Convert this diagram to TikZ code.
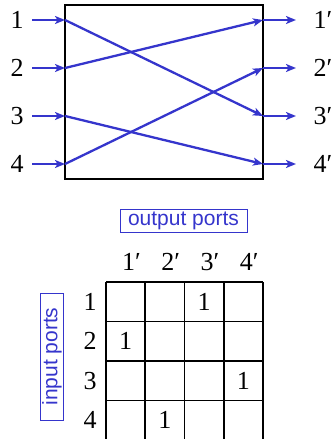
\documentclass[tikz,border=0pt]{standalone}
\usepackage{fontspec}
\setmainfont{Liberation Serif}
\setsansfont{Liberation Sans}
\usetikzlibrary{positioning,arrows.meta}
\definecolor{wireblue}{HTML}{3535CC}

\begin{document}
\begin{tikzpicture}[x=1pt, y=-1pt,
      port/.style={font=\fontsize{26}{30}\selectfont, inner sep=3.3pt},
      wire/.style={draw=wireblue, line width=2.5pt, -{Stealth[length=10pt, width=8pt, inset=2.5pt]}},
      cross/.style={draw=wireblue, line width=2.3pt, -{Stealth[length=10pt, width=8pt, inset=2.5pt]}},
      tag/.style={draw=wireblue, line width=1pt, text=wireblue, font=\sffamily\fontsize{21}{24}\selectfont,
                  minimum width=127pt, minimum height=23pt, inner sep=0pt},
      entry/.style={font=\fontsize{26}{30}\selectfont}]
      \useasboundingbox (0,0) rectangle (333,439);
      % switch box
      \node[draw, line width=2.6pt, minimum width=198pt, minimum height=174pt, inner sep=0pt] (box) at (164,92) {};
      \coordinate (l1) at (65,20);  \coordinate (r1) at (263,20);
      \coordinate (l2) at (65,68);  \coordinate (r2) at (263,68);
      \coordinate (l3) at (65,116); \coordinate (r3) at (263,116);
      \coordinate (l4) at (65,164); \coordinate (r4) at (263,164);
      % input and output labels
      \node[port] (i1) at (17,20) {1};
      \node[port] (i2) at (17,68) {2};
      \node[port] (i3) at (17,116) {3};
      \node[port] (i4) at (17,164) {4};
      \node[port, anchor=west] (o1) at (310,20) {1′};
      \node[port, anchor=west] (o2) at (310,68) {2′};
      \node[port, anchor=west] (o3) at (310,116) {3′};
      \node[port, anchor=west] (o4) at (310,164) {4′};
      \draw[wire, shorten <=5pt] (i1) -- (l1);
      \draw[wire, shorten <=5pt] (i2) -- (l2);
      \draw[wire, shorten <=5pt] (i3) -- (l3);
      \draw[wire, shorten <=5pt] (i4) -- (l4);
      \draw[wire, shorten >=14pt] (r1) -- (o1);
      \draw[wire, shorten >=14pt] (r2) -- (o2);
      \draw[wire, shorten >=14pt] (r3) -- (o3);
      \draw[wire, shorten >=14pt] (r4) -- (o4);
      % permutation
      \draw[cross] (l1) -- (r3);
      \draw[cross] (l2) -- (r1);
      \draw[cross] (l3) -- (r4);
      \draw[cross] (l4) -- (r2);
      % connection matrix
      \node[tag] (outtag) at (183.5,221) {output ports};
      \node[tag, rotate=90] (intag) at (52,356.5) {input ports};
      \draw[line width=1.8pt] (106,282) -- (263,282) (106,321.5) -- (263,321.5)
            (106,361) -- (263,361) (106,400.5) -- (263,400.5);
      \draw[line width=1.8pt] (106,282) -- (106,439) (145.25,282) -- (145.25,439)
            (184.5,282) -- (184.5,439) (223.75,282) -- (223.75,439) (263,282) -- (263,439);
      \node[entry] (h1) at (131.5,262) {1′};
      \node[entry] (h2) at (170.8,262) {2′};
      \node[entry] (h3) at (210,262) {3′};
      \node[entry] (h4) at (249.3,262) {4′};
      \node[entry] (v1) at (90,301.75) {1};
      \node[entry] (v2) at (90,341.25) {2};
      \node[entry] (v3) at (90,380.75) {3};
      \node[entry] (v4) at (90,420.25) {4};
      \node[entry] (c13) at (204.1,301.75) {1};
      \node[entry] (c21) at (125.6,341.25) {1};
      \node[entry] (c34) at (243.4,380.75) {1};
      \node[entry] (c42) at (164.9,420.25) {1};
    \end{tikzpicture}
\end{document}
